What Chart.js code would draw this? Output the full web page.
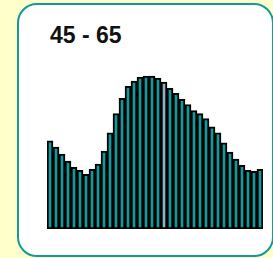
<!DOCTYPE html>
<html>
<head>
<meta charset="utf-8">
<script src="https://cdn.jsdelivr.net/npm/chart.js@4"></script>
<style>
  html, body { margin: 0; padding: 0; }
  body { width: 273px; height: 258px; background: #ffffcc; position: relative; overflow: hidden; font-family: "Liberation Sans", Arial, sans-serif; }
  .box { position: absolute; left: 17px; top: 3px; width: 253px; height: 250px; border: 2px solid #149a95; border-radius: 20px; background: #ffffff; }
  .title { position: absolute; left: 50px; top: 22px; font-size: 23px; font-weight: bold; color: #111111; white-space: pre; }
  canvas { position: absolute; left: 0; top: 0; }
</style>
</head>
<body>
<div class="box"></div>
<div class="title">45 - 65</div>
<canvas id="chart" width="273" height="258"></canvas>
<script>
  // age range histogram, one bar per bin
  const bins = Array.from({ length: 36 }, (_, i) => String(i + 1));
  const counts = [87, 81, 74, 67, 61, 58, 54, 59, 64, 77, 95, 114, 129, 141, 146, 150, 151, 151, 149, 145,
                  139, 134, 128, 123, 117, 114, 109, 101, 95, 85, 76, 69, 63, 58, 57, 59];
  const highlightBin = 19;

  const colors = counts.map((_, i) => (i === highlightBin ? "#8fb0c2" : "#129a9a"));

  new Chart(document.getElementById("chart"), {
    type: "bar",
    data: {
      labels: bins,
      datasets: [{
        data: counts,
        backgroundColor: colors,
        borderColor: "#000000",
        borderWidth: 2,
        borderSkipped: false,
        barPercentage: 1,
        categoryPercentage: 1,
      }],
    },
    options: {
      responsive: false,
      animation: false,
      layout: { padding: { left: 47, right: 10, top: 67, bottom: 29 } },
      plugins: { legend: { display: false }, tooltip: { enabled: false } },
      scales: {
        x: { display: false },
        y: { display: false, min: 0, max: 160 },
      },
    },
  });
</script>
</body>
</html>
